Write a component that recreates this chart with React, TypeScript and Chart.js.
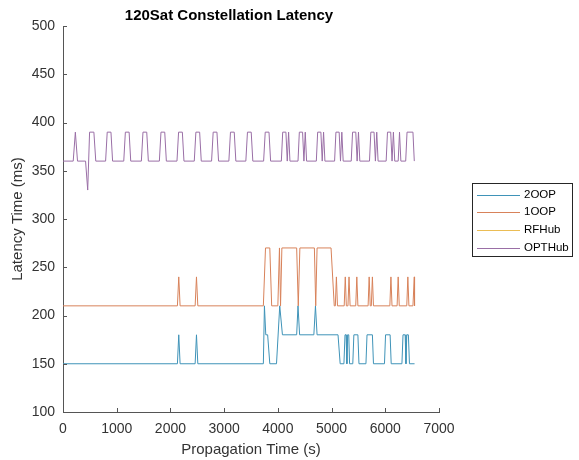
import React, { useEffect, useRef } from "react";
import { Chart, registerables } from "chart.js";

Chart.register(...registerables);

const titleText = "120Sat Constellation Latency";
const xTitle = "Propagation Time (s)";
const yTitle = "Latency Time (ms)";
const seriesNames = ["2OOP", "1OOP", "RFHub", "OPTHub"];
const seriesColors = ["#3f93b8", "#d8825a", "#ebbd55", "#9a6fa6"];
const xTickValues = [0, 1000, 2000, 3000, 4000, 5000, 6000, 7000];
const yTickValues = [100, 150, 200, 250, 300, 350, 400, 450, 500];

// 2OOP
const oop2Times = [0, 2130, 2155, 2180, 2460, 2485, 2510, 3730, 3750, 3775, 3810, 3850, 3975, 4035, 4085, 4350, 4375, 4405, 4670, 4700, 4730, 5120, 5160,
  5230, 5250, 5270, 5285, 5300, 5320, 5335, 5395, 5415, 5490, 5510, 5640, 5660, 5760, 5780, 5985, 6005, 6090, 6110,
  6310, 6330, 6370, 6385, 6400, 6430, 6450, 6545];
const oop2Values = [150, 150, 180, 150, 150, 180, 150, 150, 210, 180, 180, 150, 150, 210, 180, 180, 210, 180, 180, 210, 180, 180, 150,
  150, 180, 180, 150, 180, 180, 150, 150, 180, 180, 150, 150, 180, 180, 150, 150, 180, 180, 150,
  150, 180, 180, 150, 180, 180, 150, 150];

// 1OOP
const oop1Times = [0, 2130, 2155, 2180, 2460, 2485, 2510, 3730, 3770, 3850, 3885, 4000, 4030, 4050, 4075, 4350, 4380, 4410, 4680, 4705, 4730, 4990, 5050,
  5070, 5090, 5110, 5235, 5255, 5275, 5305, 5325, 5345, 5450, 5470, 5490, 5680, 5700, 5720, 5740, 5760, 5780,
  6085, 6105, 6125, 6220, 6240, 6260, 6400, 6420, 6440, 6515, 6540, 6545];
const oop1Values = [210, 210, 240, 210, 210, 240, 210, 210, 270, 270, 210, 210, 270, 210, 270, 270, 210, 270, 270, 210, 270, 270, 210,
  210, 240, 210, 210, 240, 210, 210, 240, 210, 210, 240, 210, 210, 240, 210, 210, 240, 210,
  210, 240, 210, 210, 240, 210, 210, 240, 210, 210, 240, 210];

// RFHub (hidden beneath OPTHub in the reference)
const rfTimes: number[] = [];
const rfValues: number[] = [];

// OPTHub
const optTimes = [0, 190, 230, 270, 420, 460, 495, 575, 610,
  793, 823, 893, 923, 1131, 1161, 1231, 1261, 1459, 1489, 1559, 1589, 1794, 1824, 1894, 1924,
  2122, 2152, 2222, 2252, 2444, 2474, 2544, 2574, 2766, 2796, 2866, 2896, 3088, 3118, 3188, 3218,
  3404, 3434, 3504, 3534, 3735, 3765, 3835, 3865,
  4065, 4090, 4150, 4175, 4200, 4225, 4375, 4400, 4460, 4485, 4510, 4535,
  4716, 4741, 4801, 4826, 4851, 4876, 5056, 5081, 5141, 5166, 5191, 5216,
  5366, 5391, 5451, 5476, 5501, 5526, 5706, 5731, 5791, 5816, 5841, 5866,
  6016, 6041, 6101, 6126, 6151, 6176, 6240, 6265, 6290, 6380, 6405, 6515, 6540];
const optValues = [360, 360, 390, 360, 360, 330, 390, 390, 360,
  360, 390, 390, 360, 360, 390, 390, 360, 360, 390, 390, 360, 360, 390, 390, 360,
  360, 390, 390, 360, 360, 390, 390, 360, 360, 390, 390, 360, 360, 390, 390, 360,
  360, 390, 390, 360, 360, 390, 390, 360,
  360, 390, 390, 360, 390, 360, 360, 390, 390, 360, 390, 360,
  360, 390, 390, 360, 390, 360, 360, 390, 390, 360, 390, 360,
  360, 390, 390, 360, 390, 360, 360, 390, 390, 360, 390, 360,
  360, 390, 390, 360, 390, 360, 360, 390, 360, 360, 390, 390, 360];

const seriesTimes = [oop2Times, oop1Times, rfTimes, optTimes];
const seriesValues = [oop2Values, oop1Values, rfValues, optValues];

const FONT = '"Liberation Sans", Arial, Helvetica, sans-serif';

const decorPlugin = {
  id: "decor",
  afterDraw(chart: any) {
    const { ctx, chartArea: a, scales } = chart;
    ctx.save();
    // inward tick marks
    ctx.strokeStyle = "#555555";
    ctx.lineWidth = 1;
    ctx.beginPath();
    scales.x.ticks.forEach((t: any) => {
      const px = Math.round(scales.x.getPixelForValue(t.value)) + 0.5;
      ctx.moveTo(px, a.bottom);
      ctx.lineTo(px, a.bottom - 4);
    });
    scales.y.ticks.forEach((t: any) => {
      const py = Math.round(scales.y.getPixelForValue(t.value)) + 0.5;
      ctx.moveTo(a.left, py);
      ctx.lineTo(a.left + 4, py);
    });
    ctx.stroke();
    // title
    ctx.fillStyle = "#000000";
    ctx.font = "bold 15px " + FONT;
    ctx.textAlign = "center";
    ctx.textBaseline = "middle";
    ctx.fillText(titleText, 229, 16);
    // legend
    const bx = 472.5, by = 183.5, bw = 100, bh = 73;
    ctx.fillStyle = "#ffffff";
    ctx.fillRect(bx, by, bw, bh);
    ctx.strokeStyle = "#262626";
    ctx.lineWidth = 1;
    ctx.strokeRect(bx, by, bw, bh);
    ctx.font = "11.5px " + FONT;
    ctx.textAlign = "left";
    chart.data.datasets.forEach((ds: any, i: number) => {
      const ry = 194.5 + i * 17.7;
      ctx.strokeStyle = ds.borderColor;
      ctx.beginPath();
      ctx.moveTo(477, Math.round(ry) + 0.5);
      ctx.lineTo(520, Math.round(ry) + 0.5);
      ctx.stroke();
      ctx.fillStyle = "#000000";
      ctx.fillText(ds.label, 524, ry);
    });
    ctx.restore();
  },
};

export default function App() {
  const ref = useRef<HTMLCanvasElement | null>(null);
  useEffect(() => {
    document.body.style.margin = "0";
    const canvas = ref.current;
    if (!canvas) return;
    const datasets = seriesNames.map((name, i) => ({
      label: name,
      data: seriesTimes[i].map((t, j) => ({ x: t, y: seriesValues[i][j] })),
      borderColor: seriesColors[i],
      backgroundColor: seriesColors[i],
      borderWidth: 1,
      pointRadius: 0,
      tension: 0,
      fill: false,
      order: 4 - i,
    }));
    const chart = new Chart(canvas, {
      type: "line",
      data: { datasets },
      options: {
        animation: false,
        responsive: false,
        devicePixelRatio: 1,
        layout: { padding: { top: 26, right: 140, left: 0, bottom: 0 } },
        plugins: { legend: { display: false }, tooltip: { enabled: false }, title: { display: false } },
        scales: {
          x: {
            type: "linear",
            min: 0,
            max: 7000,
            afterBuildTicks: (s: any) => { s.ticks = xTickValues.map((v) => ({ value: v })); },
            afterFit: (s: any) => { s.height = 48; },
            grid: { display: false, drawTicks: false },
            border: { display: true, color: "#555555", width: 1 },
            ticks: { color: "#333333", font: { size: 14, family: FONT }, padding: 9, maxRotation: 0, autoSkip: false, callback: (v: any) => String(v) },
            title: { display: true, text: xTitle, color: "#333333", font: { size: 15, family: FONT }, padding: { top: 0, bottom: 1 } },
          },
          y: {
            type: "linear",
            min: 100,
            max: 500,
            afterBuildTicks: (s: any) => { s.ticks = yTickValues.map((v) => ({ value: v })); },
            afterFit: (s: any) => { s.width = 63; },
            grid: { display: false, drawTicks: false },
            border: { display: true, color: "#555555", width: 1 },
            ticks: { color: "#333333", font: { size: 14, family: FONT }, padding: 8, autoSkip: false, callback: (v: any) => String(v) },
            title: { display: true, text: yTitle, color: "#333333", font: { size: 15, family: FONT }, padding: { top: 9, bottom: 0 } },
          },
        },
      },
      plugins: [decorPlugin],
    });
    return () => chart.destroy();
  }, []);
  return <canvas ref={ref} width={579} height={460} style={{ display: "block", width: 579, height: 460 }} />;
}
